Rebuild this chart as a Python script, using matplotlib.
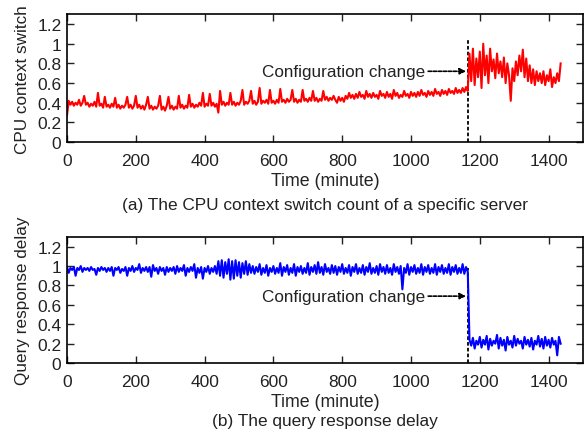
#!/usr/bin/env python
"""
    CPU context switch / query response delay around a configuration change
    """
# --------------------------------------------------------------------------------/
import numpy as np
import matplotlib
matplotlib.use('Agg')
import matplotlib.pyplot as plt
# --------------------------------------------------------------------------------/
# samples every 5 minutes (one row = one hour)
step = 5
cpu = [
    0.27, 0.42, 0.38, 0.41, 0.37, 0.40, 0.38, 0.43, 0.37, 0.40, 0.47, 0.38,
    0.40, 0.36, 0.39, 0.37, 0.41, 0.36, 0.50, 0.37, 0.39, 0.35, 0.46, 0.36,
    0.38, 0.35, 0.39, 0.36, 0.45, 0.35, 0.38, 0.34, 0.37, 0.35, 0.38, 0.46,
    0.35, 0.38, 0.34, 0.37, 0.47, 0.35, 0.38, 0.34, 0.37, 0.33, 0.38, 0.46,
    0.34, 0.37, 0.33, 0.36, 0.34, 0.37, 0.47, 0.33, 0.36, 0.32, 0.37, 0.46,
    0.34, 0.37, 0.33, 0.36, 0.34, 0.47, 0.35, 0.38, 0.34, 0.37, 0.35, 0.48,
    0.36, 0.39, 0.35, 0.38, 0.36, 0.40, 0.37, 0.50, 0.36, 0.39, 0.37, 0.49,
    0.37, 0.40, 0.36, 0.39, 0.30, 0.52, 0.38, 0.41, 0.37, 0.40, 0.38, 0.50,
    0.38, 0.41, 0.37, 0.40, 0.38, 0.42, 0.53, 0.38, 0.41, 0.39, 0.42, 0.52,
    0.39, 0.42, 0.38, 0.41, 0.55, 0.39, 0.42, 0.40, 0.43, 0.39, 0.53, 0.40,
    0.42, 0.39, 0.43, 0.40, 0.54, 0.41, 0.43, 0.40, 0.44, 0.41, 0.43, 0.53,
    0.41, 0.44, 0.40, 0.43, 0.41, 0.53, 0.42, 0.44, 0.41, 0.45, 0.42, 0.52,
    0.42, 0.45, 0.41, 0.44, 0.42, 0.52, 0.43, 0.46, 0.42, 0.45, 0.43, 0.47,
    0.43, 0.40, 0.46, 0.42, 0.45, 0.41, 0.47, 0.44, 0.50, 0.45, 0.48, 0.44,
    0.49, 0.45, 0.51, 0.46, 0.48, 0.44, 0.52, 0.46, 0.49, 0.45, 0.50, 0.46,
    0.48, 0.44, 0.52, 0.47, 0.49, 0.45, 0.51, 0.46, 0.49, 0.44, 0.53, 0.47,
    0.50, 0.45, 0.48, 0.46, 0.52, 0.47, 0.49, 0.45, 0.51, 0.47, 0.50, 0.46,
    0.51, 0.47, 0.53, 0.48, 0.50, 0.46, 0.52, 0.48, 0.51, 0.47, 0.54, 0.49,
    0.51, 0.47, 0.53, 0.49, 0.52, 0.48, 0.54, 0.50, 0.52, 0.49, 0.55, 0.50,
    0.53, 0.50, 0.55, 0.51, 0.56, 0.52, 0.90, 0.62, 0.95, 0.58, 0.85, 0.66,
    0.92, 0.55, 1.00, 0.68, 0.88, 0.60, 0.95, 0.72, 0.84, 0.65, 0.90, 0.70,
    0.82, 0.66, 0.86, 0.60, 0.80, 0.68, 0.42, 0.75, 0.62, 0.82, 0.68, 0.88,
    0.72, 0.94, 0.66, 0.85, 0.62, 0.78, 0.60, 0.74, 0.58, 0.72, 0.62, 0.70,
    0.60, 0.72, 0.58, 0.68, 0.62, 0.74, 0.56, 0.66, 0.60, 0.70, 0.62, 0.80,
]
delay = [
    0.99, 0.93, 0.98, 0.96, 0.99, 0.90, 0.98, 0.96, 1.00, 0.94, 0.98, 0.96,
    0.98, 0.95, 0.99, 0.96, 0.97, 0.91, 0.98, 0.95, 0.99, 0.96, 0.98, 0.94,
    0.98, 0.95, 0.99, 0.90, 0.98, 0.96, 0.99, 0.93, 0.97, 0.95, 0.99, 0.90,
    0.98, 0.95, 1.00, 0.94, 0.98, 0.96, 1.02, 0.93, 0.98, 0.95, 0.99, 0.94,
    0.99, 0.89, 1.01, 0.95, 0.98, 0.92, 0.99, 0.95, 0.98, 0.91, 0.99, 0.94,
    0.98, 0.95, 0.99, 0.92, 1.00, 0.94, 0.98, 0.95, 1.01, 0.90, 0.98, 0.94,
    0.99, 0.95, 1.02, 0.88, 0.98, 0.93, 0.99, 0.87, 0.98, 0.94, 1.00, 0.92,
    0.98, 0.94, 1.00, 0.92, 1.05, 0.90, 1.06, 0.88, 1.04, 0.92, 1.07, 0.86,
    1.05, 0.87, 1.06, 0.90, 1.04, 0.88, 1.03, 0.92, 1.05, 0.91, 1.02, 0.93,
    1.00, 0.92, 0.99, 0.94, 1.02, 0.91, 0.98, 0.93, 1.01, 0.90, 0.98, 0.94,
    1.00, 0.92, 0.98, 0.93, 1.03, 0.90, 0.99, 0.94, 1.01, 0.91, 0.98, 0.93,
    1.02, 0.90, 0.99, 0.94, 1.00, 0.92, 0.98, 0.93, 1.03, 0.91, 0.99, 0.94,
    1.01, 0.92, 1.04, 0.93, 0.99, 0.91, 1.02, 0.94, 0.98, 0.92, 1.01, 0.93,
    1.00, 0.91, 0.99, 0.94, 1.02, 0.92, 0.98, 0.93, 1.01, 0.90, 0.99, 0.94,
    1.02, 0.92, 0.98, 0.93, 1.01, 0.91, 0.99, 0.94, 1.03, 0.92, 0.98, 0.93,
    1.00, 0.91, 1.02, 0.94, 0.99, 0.92, 1.01, 0.93, 0.98, 0.91, 1.02, 0.94,
    0.99, 0.92, 1.00, 0.76, 0.98, 0.93, 1.02, 0.91, 0.99, 0.94, 1.01, 0.92,
    0.98, 0.93, 1.02, 0.91, 0.99, 0.94, 1.01, 0.92, 0.98, 0.93, 1.02, 0.91,
    0.99, 0.94, 1.01, 0.92, 0.98, 0.93, 1.02, 0.91, 0.99, 0.94, 1.01, 0.92,
    0.98, 0.93, 1.02, 0.92, 0.99, 0.94, 0.24, 0.18, 0.26, 0.15, 0.23, 0.19,
    0.27, 0.16, 0.24, 0.19, 0.28, 0.14, 0.25, 0.18, 0.23, 0.20, 0.29, 0.15,
    0.26, 0.18, 0.24, 0.13, 0.27, 0.19, 0.23, 0.16, 0.28, 0.18, 0.25, 0.20,
    0.23, 0.15, 0.27, 0.19, 0.24, 0.17, 0.26, 0.14, 0.23, 0.19, 0.28, 0.17,
    0.25, 0.15, 0.27, 0.18, 0.24, 0.16, 0.26, 0.19, 0.23, 0.08, 0.27, 0.20,
]
change = 1165
xticks = [0, 200, 400, 600, 800, 1000, 1200, 1400]
yticks = [0, 0.2, 0.4, 0.6, 0.8, 1, 1.2]
ytick_labels = ['0', '0.2', '0.4', '0.6', '0.8', '1', '1.2']
# --------------------------------------------------------------------------------/
plt.rcParams['font.family'] = ['Liberation Sans', 'DejaVu Sans']
txt = '#222222'

t = np.arange(len(cpu)) * step

fig = plt.figure(figsize=(5.84, 4.35), dpi=100)
ax1 = fig.add_axes([0.1147, 0.671, 0.8836, 0.294])
ax2 = fig.add_axes([0.1147, 0.163, 0.8836, 0.290])


def style(axe, ylabel, caption, top_line, cap_y):
    axe.set_xlim(0, 1500)
    axe.set_ylim(0, 1.3)
    axe.set_xticks(xticks)
    axe.set_yticks(yticks)
    axe.set_yticklabels(ytick_labels)
    axe.tick_params(direction='in', top=True, right=True, length=5, width=1,
                    labelsize=12.5, colors=txt)
    axe.tick_params(axis='x', pad=8)
    axe.tick_params(axis='y', pad=4)
    for s in axe.spines.values():
        s.set_linewidth(1.2)
    axe.set_ylabel(ylabel, fontsize=12.3, color=txt, labelpad=5)
    axe.set_xlabel('Time (minute)', fontsize=12.8, color=txt, labelpad=3)
    axe.text(0.5, cap_y, caption, transform=axe.transAxes, ha='center',
             va='center', fontsize=12.4, color=txt)
    axe.plot([change, change], [0, top_line], color='black', lw=1.3,
             ls=(0, (2, 1.2)), zorder=1)


style(ax1, 'CPU context switch',
      '(a) The CPU context switch count of a specific server', 1.04, -0.49)
style(ax2, 'Query response delay', '(b) The query response delay', 0.98, -0.455)

ax1.plot(t, cpu, color='red', lw=1.5, zorder=2)
ax2.plot(t, delay, color='blue', lw=1.5, zorder=2)

for axe, yy in ((ax1, 0.72), (ax2, 0.69)):
    axe.annotate('', xy=(change - 5, yy), xytext=(1050, yy),
                 arrowprops=dict(arrowstyle='-|>', color='black', lw=1.2,
                                 ls=(0, (2, 1)), mutation_scale=9,
                                 shrinkA=0, shrinkB=0))
    axe.text(1040, yy, 'Configuration change', ha='right', va='center',
             fontsize=12.3, color=txt)

fig.savefig('out.png', dpi=100)
# --------------------------------------------------------------------------------/
# eof
# --------------------------------------------------------------------------------/
